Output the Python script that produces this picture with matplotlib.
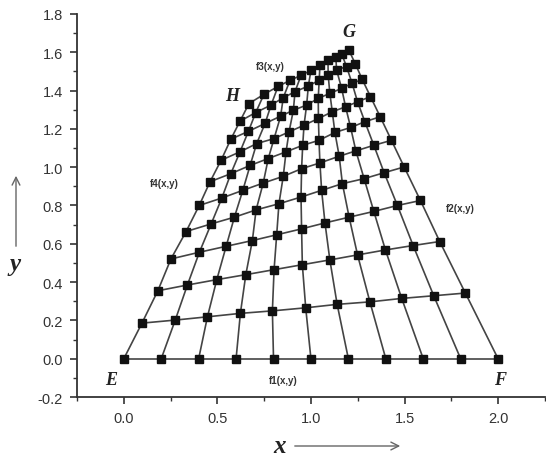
import numpy as np
import matplotlib
matplotlib.use("Agg")
import matplotlib.pyplot as plt
from matplotlib.ticker import MultipleLocator

# Mesh nodes, read row by row (row 0 = E-F edge, row 10 = H-G edge)
row0_x = [0.0, 0.2, 0.4, 0.6, 0.8, 1.0, 1.2, 1.4, 1.6, 1.8, 2.0]
row0_y = [0.0, 0.0, 0.0, 0.0, 0.0, 0.0, 0.0, 0.0, 0.0, 0.0, 0.0]
row1_x = [0.097, 0.275, 0.447, 0.623, 0.794, 0.972, 1.140, 1.315, 1.485, 1.656, 1.825]
row1_y = [0.186, 0.202, 0.219, 0.237, 0.250, 0.266, 0.284, 0.297, 0.315, 0.329, 0.343]
row2_x = [0.182, 0.340, 0.497, 0.652, 0.803, 0.954, 1.101, 1.249, 1.398, 1.546, 1.688]
row2_y = [0.355, 0.385, 0.413, 0.439, 0.465, 0.491, 0.516, 0.542, 0.568, 0.591, 0.612]
row3_x = [0.252, 0.404, 0.547, 0.687, 0.817, 0.950, 1.075, 1.204, 1.336, 1.462, 1.585]
row3_y = [0.521, 0.556, 0.587, 0.617, 0.647, 0.678, 0.709, 0.739, 0.769, 0.800, 0.826]
row4_x = [0.333, 0.467, 0.591, 0.707, 0.829, 0.947, 1.057, 1.168, 1.284, 1.391, 1.498]
row4_y = [0.664, 0.704, 0.739, 0.777, 0.809, 0.844, 0.879, 0.914, 0.940, 0.971, 1.001]
row5_x = [0.403, 0.524, 0.636, 0.745, 0.852, 0.950, 1.048, 1.151, 1.240, 1.336, 1.430]
row5_y = [0.800, 0.839, 0.879, 0.917, 0.952, 0.992, 1.022, 1.057, 1.085, 1.114, 1.140]
row6_x = [0.461, 0.572, 0.675, 0.772, 0.867, 0.956, 1.043, 1.128, 1.212, 1.288, 1.370]
row6_y = [0.924, 0.966, 1.009, 1.045, 1.080, 1.114, 1.140, 1.181, 1.207, 1.237, 1.263]
row7_x = [0.520, 0.621, 0.710, 0.803, 0.883, 0.963, 1.040, 1.114, 1.185, 1.249, 1.318]
row7_y = [1.036, 1.080, 1.123, 1.149, 1.184, 1.219, 1.254, 1.289, 1.315, 1.341, 1.368]
row8_x = [0.572, 0.666, 0.755, 0.838, 0.906, 0.977, 1.039, 1.101, 1.164, 1.220, 1.274]
row8_y = [1.146, 1.187, 1.228, 1.266, 1.297, 1.324, 1.359, 1.385, 1.411, 1.437, 1.458]
row9_x = [0.621, 0.705, 0.787, 0.852, 0.915, 0.986, 1.044, 1.092, 1.137, 1.190, 1.237]
row9_y = [1.240, 1.285, 1.324, 1.362, 1.394, 1.423, 1.454, 1.481, 1.507, 1.525, 1.539]
row10_x = [0.669, 0.749, 0.824, 0.888, 0.947, 1.000, 1.048, 1.091, 1.133, 1.165, 1.203]
row10_y = [1.332, 1.380, 1.421, 1.453, 1.479, 1.505, 1.531, 1.558, 1.573, 1.589, 1.610]

x_ticks = [0.0, 0.5, 1.0, 1.5, 2.0]
y_ticks = [-0.2, 0.0, 0.2, 0.4, 0.6, 0.8, 1.0, 1.2, 1.4, 1.6, 1.8]

corner_labels = ["E", "F", "G", "H"]
corner_pos = [(-0.07, -0.11), (2.01, -0.11), (1.205, 1.71), (0.58, 1.375)]
edge_labels = ["f1(x,y)", "f2(x,y)", "f3(x,y)", "f4(x,y)"]
edge_pos = [(0.85, -0.11), (1.80, 0.785), (0.785, 1.527), (0.215, 0.915)]

X = np.array([row0_x, row1_x, row2_x, row3_x, row4_x, row5_x,
              row6_x, row7_x, row8_x, row9_x, row10_x])
Y = np.array([row0_y, row1_y, row2_y, row3_y, row4_y, row5_y,
              row6_y, row7_y, row8_y, row9_y, row10_y])

fig = plt.figure(figsize=(5.46, 4.64), dpi=100)
ax = fig.add_axes([0.141, 0.142, 0.857, 0.826])

line_kw = dict(color="#444444", lw=1.2, zorder=2)
for i in range(X.shape[0]):
    ax.plot(X[i], Y[i], **line_kw)
for j in range(X.shape[1]):
    ax.plot(X[:, j], Y[:, j], **line_kw)
ax.plot(X.ravel(), Y.ravel(), linestyle="none", marker="s", markersize=5.6,
        color="#111111", zorder=3)

ax.set_xlim(-0.25, 2.25)
ax.set_ylim(-0.2, 1.8)
ax.set_xticks(x_ticks)
ax.set_yticks(y_ticks)
ax.xaxis.set_minor_locator(MultipleLocator(0.25))
ax.yaxis.set_minor_locator(MultipleLocator(0.1))
ax.set_xticklabels([f"{v:.1f}" for v in x_ticks])
ax.set_yticklabels([f"{v:.1f}" for v in y_ticks])
for s in ("top", "right"):
    ax.spines[s].set_visible(False)
for s in ("left", "bottom"):
    ax.spines[s].set_color("#333333")
    ax.spines[s].set_linewidth(1.3)
ax.tick_params(which="major", direction="out", length=5, width=1.2,
               colors="#333333", labelsize=10.5, pad=5)
ax.tick_params(which="minor", direction="out", length=3, width=1.0,
               colors="#333333")
for lab in ax.get_xticklabels() + ax.get_yticklabels():
    lab.set_fontfamily("Liberation Sans")
    lab.set_color("#333333")

serif = dict(family="Liberation Serif", fontweight="bold", fontstyle="italic",
             color="#222222")
for t, (px, py) in zip(corner_labels, corner_pos):
    ax.text(px, py, t, fontsize=13, ha="center", va="center", **serif)
for t, (px, py) in zip(edge_labels, edge_pos):
    ax.text(px, py, t, fontsize=7, ha="center", va="center",
            family="Liberation Sans", fontweight="bold", color="#333333")

# axis name arrows
fig.text(280 / 546, 1 - 447 / 464, "x", fontsize=18, ha="center", va="center", **serif)
fig.add_artist(matplotlib.patches.FancyArrowPatch(
    (292 / 546, 1 - 447 / 464), (403 / 546, 1 - 447 / 464),
    transform=fig.transFigure, arrowstyle="->", mutation_scale=14,
    color="#666666", lw=1.0))
fig.text(15 / 546, 1 - 264 / 464, "y", fontsize=18, ha="center", va="center", **serif)
fig.add_artist(matplotlib.patches.FancyArrowPatch(
    (16 / 546, 1 - 250 / 464), (16 / 546, 1 - 174 / 464),
    transform=fig.transFigure, arrowstyle="->", mutation_scale=14,
    color="#666666", lw=1.0))

fig.savefig("out.png", dpi=100)
